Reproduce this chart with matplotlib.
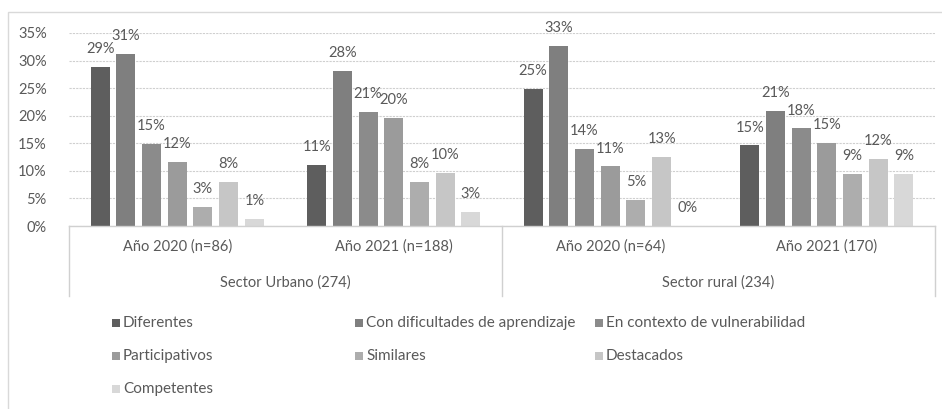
import matplotlib
matplotlib.use("Agg")
import matplotlib.pyplot as plt
from matplotlib.patches import Rectangle
from matplotlib.lines import Line2D
import numpy as np

plt.rcParams['font.family'] = ['Lato', 'DejaVu Sans']

# ---- data ----
categories = ["Año 2020 (n=86)", "Año 2021 (n=188)", "Año 2020 (n=64)", "Año 2021 (170)"]
sectors = ["Sector Urbano (274)", "Sector rural (234)"]
series_names = ["Diferentes", "Con dificultades de aprendizaje", "En contexto de vulnerabilidad",
                "Participativos", "Similares", "Destacados", "Competentes"]
diferentes = [28.9, 11.1, 24.8, 14.6]
con_dificultades = [31.2, 28.1, 32.6, 20.9]
en_contexto = [14.9, 20.7, 14.0, 17.7]
participativos = [11.6, 19.6, 10.8, 15.1]
similares = [3.4, 8.0, 4.8, 9.4]
destacados = [8.0, 9.6, 12.6, 12.1]
competentes = [1.2, 2.6, 0.0, 9.4]
yticks = [0, 5, 10, 15, 20, 25, 30, 35]

series = [diferentes, con_dificultades, en_contexto, participativos, similares, destacados, competentes]
colors = ["#5e5e5e", "#7f7f7f", "#8b8b8b", "#9b9b9b", "#adadad", "#c6c6c6", "#d8d8d8"]
txt = "#595959"
W, H = 942, 409

fig = plt.figure(figsize=(W / 100, H / 100), dpi=100)
ax_l, ax_r, ax_b, ax_t = 69, 935, 226, 33
ax = fig.add_axes([ax_l / W, 1 - ax_b / H, (ax_r - ax_l) / W, (ax_b - ax_t) / H])

x = np.arange(len(categories))
n = len(series)
step = 0.1187
bw = 0.088
for i, (vals, col) in enumerate(zip(series, colors)):
    pos = x + (i - (n - 1) / 2) * step
    ax.bar(pos, vals, width=bw, color=col, edgecolor="none", zorder=3)
    for p, v in zip(pos, vals):
        ax.annotate(f"{round(v):d}%", (p, v), xytext=(0, 10), textcoords="offset points",
                    ha="center", va="baseline", fontsize=10.5, color=txt, zorder=4)

ax.set_xlim(-0.5, len(categories) - 0.5)
ax.set_ylim(0, 35)
ax.set_yticks(yticks)
ax.set_yticklabels([f"{t}%" for t in yticks])
ax.tick_params(axis="y", length=0, pad=16, labelsize=10.5, labelcolor=txt)
ax.tick_params(axis="x", length=0, labelbottom=False)
for s in ax.spines.values():
    s.set_visible(False)
ax.grid(axis="y", color="#cfcfcf", linestyle=(0, (2, 1)), linewidth=0.8, zorder=0)
ax.set_axisbelow(True)

# category axis box
ah = ax_b - ax_t
depth = (296 - 226) / ah
ax.add_line(Line2D([0, 1], [0, 0], transform=ax.transAxes, color="#d0d0d0", lw=1.0, clip_on=False, zorder=5))
for xv in [0, 0.5, 1]:
    ax.add_line(Line2D([xv, xv], [0, -depth], transform=ax.transAxes, color="#d0d0d0", lw=1.0, clip_on=False))

for i, c in enumerate(categories):
    fig.text((ax_l + (i + 0.5) * (ax_r - ax_l) / 4) / W, 1 - 247 / H, c, ha="center", va="center",
             fontsize=10.5, color=txt)
for i, s in enumerate(sectors):
    fig.text((ax_l + (i + 0.5) * (ax_r - ax_l) / 2) / W, 1 - 283 / H, s, ha="center", va="center",
             fontsize=10.5, color=txt)

# legend (manual, 3 columns)
col_x = [112, 355, 595]
row_y = [323, 356, 389]
for k, (name, col) in enumerate(zip(series_names, colors)):
    r, c = divmod(k, 3)
    mx, my = col_x[c], row_y[r]
    fig.add_artist(Rectangle((mx / W, 1 - (my + 4) / H), 8 / W, 8 / H, transform=fig.transFigure,
                             facecolor=col, edgecolor="none"))
    fig.text((mx + 11) / W, 1 - my / H, name, ha="left", va="center", fontsize=11, color=txt)

# chart frame
fig.add_artist(Rectangle((8 / W, -0.02), 1.05, 1 - 12 / H + 0.02, transform=fig.transFigure,
                         facecolor="none", edgecolor="#d9d9d9", lw=1.0))

fig.savefig("out.png", dpi=100)
